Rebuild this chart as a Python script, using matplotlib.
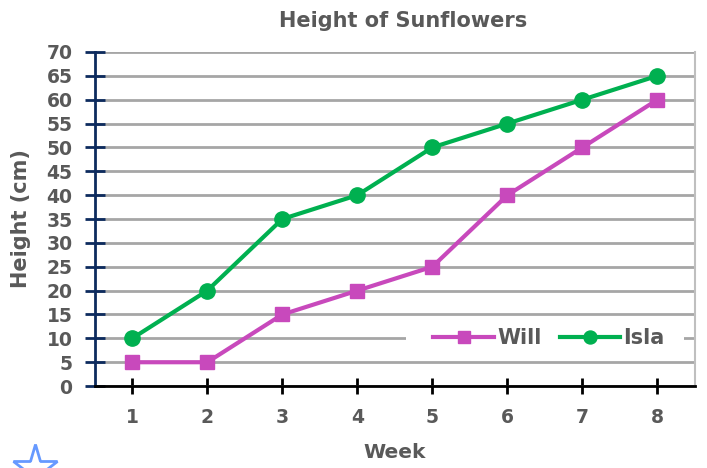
import matplotlib

matplotlib.use('Agg')
import matplotlib.pyplot as plt
from matplotlib.lines import Line2D
from matplotlib.patches import Rectangle

weeks = [1, 2, 3, 4, 5, 6, 7, 8]
will = [5, 5, 15, 20, 25, 40, 50, 60]
isla = [10, 20, 35, 40, 50, 55, 60, 65]
y_ticks = list(range(0, 75, 5))

text_col = '#595959'
plt.rcParams['font.family'] = ['DejaVu Sans']
plt.rcParams['font.weight'] = 'bold'
plt.rcParams['axes.titleweight'] = 'bold'
plt.rcParams['axes.labelweight'] = 'bold'

fig = plt.figure(figsize=(7.07, 4.68), dpi=100)
ax = fig.add_axes([0.134, 0.175, 0.849, 0.714])

ax.plot(weeks, will, color='#C849BC', lw=3, marker='s', ms=10, label='Will', zorder=3)
ax.plot(weeks, isla, color='#00B050', lw=3, marker='o', ms=11, label='Isla', zorder=3)

ax.set_xlim(0.5, 8.5)
ax.set_ylim(0, 70)
ax.set_yticks(y_ticks)
ax.set_xticks(weeks)
ax.grid(axis='y', color='#A6A6A6', lw=2)
ax.set_axisbelow(True)

ax.spines['top'].set_visible(False)
ax.spines['right'].set_color('#BFBFBF')
ax.spines['right'].set_linewidth(1.5)
ax.spines['left'].set_color('#0D2B5E')
ax.spines['left'].set_linewidth(2)
ax.spines['bottom'].set_color('black')
ax.spines['bottom'].set_linewidth(2)

ax.tick_params(axis='y', direction='inout', length=14, width=2, color='#0D2B5E',
               labelsize=13.5, labelcolor=text_col, pad=9)
ax.tick_params(axis='x', direction='inout', length=12, width=2, color='black',
               labelsize=13.5, labelcolor=text_col, pad=10)

ax.set_title('Height of Sunflowers', fontsize=15, color=text_col, pad=18, x=0.513)
ax.set_xlabel('Week', fontsize=14.5, color=text_col, labelpad=11)
ax.set_ylabel('Height (cm)', fontsize=15, color=text_col, labelpad=11)

leg = ax.legend(loc='center right', bbox_to_anchor=(0.955, 10 / 70), ncol=2, frameon=False,
                fontsize=15, handlelength=2.9, columnspacing=0.9, handletextpad=0.15,
                borderpad=0.15, borderaxespad=0.0, markerscale=0.85)
for t in leg.get_texts():
    t.set_color(text_col)

# white box behind the legend, wider than tall (breaks only the 10 gridline)
fig.canvas.draw()
bb = leg.get_window_extent()
box = Rectangle((bb.x0 - 24, bb.y0 + 2), bb.width + 40, bb.height - 4,
                transform=None, facecolor='white', edgecolor='none', zorder=1.5)
ax.add_artist(box)

star = Line2D([0.05], [0.0], marker='*', ms=34, mfc='none', mec='#6699FF', mew=2,
              transform=fig.transFigure, clip_on=False)
fig.add_artist(star)

plt.savefig('out.png', dpi=100)
